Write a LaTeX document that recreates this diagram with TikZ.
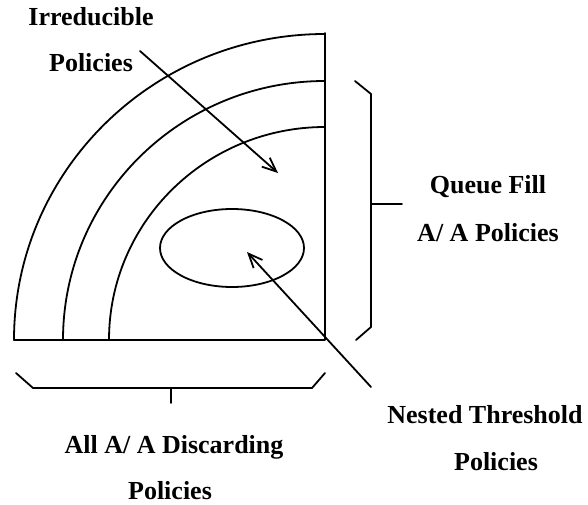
\documentclass[tikz,border=0pt]{standalone}
\usepackage{fontspec}
\setmainfont{Liberation Serif}
\usetikzlibrary{arrows.meta,shapes.geometric}
\begin{document}
\begin{tikzpicture}[x=1pt,y=1pt,
  ln/.style={line width=1.8pt,line cap=round,line join=round},
  lbl/.style={font=\fontsize{26}{26}\selectfont\bfseries,inner sep=0pt},
  arr/.style={ln,-{Straight Barb[length=14pt,width=12pt,line width=1.8pt]}}]
\useasboundingbox (0,0) rectangle (588,-505);
% quarter region
\coordinate (C) at (325,-340);
\draw[ln] (14,-340) arc[start angle=180,end angle=90,x radius=311pt,y radius=306pt] coordinate (top1);
\draw[ln] (63,-340) arc[start angle=180,end angle=90,x radius=262pt,y radius=259pt];
\draw[ln] (109,-340) arc[start angle=180,end angle=90,x radius=216pt,y radius=213pt];
\draw[ln] (325,-33) -- (C) -- (14,-340);
\node[ln,draw,ellipse,minimum width=144pt,minimum height=78pt,inner sep=0pt] (ell) at (232,-248) {};
% right bracket
\draw[ln] (355,-81) -- (371,-94) -- (371,-327) -- (356,-340);
\draw[ln] (371,-204) -- (402,-204);
% bottom bracket
\draw[ln] (16,-373) -- (33,-388) -- (312,-388) -- (325,-373);
\draw[ln] (171,-388) -- (171,-403);
% labels
\node[lbl] (irr1) at (91,-17) {Irreducible};
\node[lbl] (irr2) at (91,-63) {Policies};
\node[lbl] (qf1) at (488,-187) {Queue Fill};
\node[lbl] (qf2) at (488,-233) {A/ A Policies};
\node[lbl] (nt1) at (485,-415) {Nested Threshold};
\node[lbl] (nt2) at (496,-462) {Policies};
\node[lbl] (all1) at (174,-447) {All A/ A Discarding};
\node[lbl] (all2) at (170,-491) {Policies};
% arrows
\coordinate (a1s) at (140,-51);
\coordinate (a1e) at (278,-173);
\coordinate (a2s) at (371,-387);
\coordinate (a2e) at (247,-252);
\draw[arr] (a1s) -- (a1e);
\draw[arr] (a2s) -- (a2e);
\end{tikzpicture}
\end{document}
